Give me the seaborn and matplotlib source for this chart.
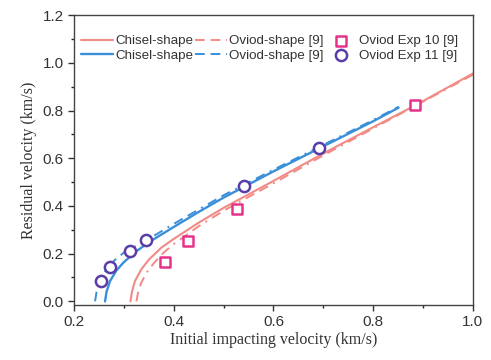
import numpy as np
import pandas as pd
import seaborn as sns
import matplotlib
matplotlib.use("Agg")
import matplotlib.pyplot as plt
from matplotlib.ticker import MultipleLocator

# --- datos ---
x_chisel_red = [0.313, 0.316, 0.322, 0.335, 0.35, 0.375, 0.40, 0.45, 0.50, 0.60, 0.70, 0.80, 0.883, 1.00]
y_chisel_red = [0.000, 0.040, 0.085, 0.135, 0.175, 0.225, 0.262, 0.330, 0.392, 0.505, 0.620, 0.730, 0.820, 0.955]

x_oviod_red = [0.325, 0.328, 0.334, 0.345, 0.36, 0.38, 0.40, 0.45, 0.50, 0.60, 0.70, 0.80, 0.883, 1.00]
y_oviod_red = [0.000, 0.035, 0.075, 0.120, 0.160, 0.205, 0.240, 0.315, 0.380, 0.495, 0.612, 0.725, 0.818, 0.950]

x_chisel_blue = [0.262, 0.265, 0.272, 0.285, 0.30, 0.325, 0.35, 0.40, 0.45, 0.50, 0.60, 0.70, 0.80, 0.851]
y_chisel_blue = [0.000, 0.040, 0.085, 0.130, 0.165, 0.210, 0.248, 0.312, 0.375, 0.435, 0.545, 0.650, 0.755, 0.812]

x_oviod_blue = [0.242, 0.245, 0.252, 0.265, 0.28, 0.30, 0.35, 0.40, 0.45, 0.50, 0.60, 0.70, 0.80, 0.851]
y_oviod_blue = [0.000, 0.040, 0.085, 0.135, 0.170, 0.205, 0.262, 0.325, 0.385, 0.445, 0.552, 0.656, 0.760, 0.816]

exp10_x = [0.382, 0.428, 0.527, 0.883]
exp10_y = [0.163, 0.255, 0.389, 0.822]

exp11_x = [0.254, 0.272, 0.312, 0.344, 0.541, 0.691]
exp11_y = [0.084, 0.142, 0.209, 0.259, 0.485, 0.644]

rojo = "#F28A86"
azul = "#3A8FD8"
magenta = "#E5338A"
morado = "#5A3DA8"
guiones = [5, 3, 5, 3, 1, 3]

sns.set_style("ticks")
plt.rcParams['font.family'] = ['Liberation Sans', 'DejaVu Sans']

fig = plt.figure(figsize=(4.91, 3.60), dpi=100)
ax = fig.add_axes([0.151, 0.153, 0.812, 0.805])

sns.lineplot(x=x_chisel_red, y=y_chisel_red, ax=ax, color=rojo, lw=1.5, label="Chisel-shape", sort=False)
sns.lineplot(x=x_chisel_blue, y=y_chisel_blue, ax=ax, color=azul, lw=1.7, label="Chisel-shape", sort=False)
sns.lineplot(x=x_oviod_red, y=y_oviod_red, ax=ax, color=rojo, lw=1.4, label="Oviod-shape [9]", sort=False)
ax.lines[-1].set_dashes(guiones)
sns.lineplot(x=x_oviod_blue, y=y_oviod_blue, ax=ax, color=azul, lw=1.4, label="Oviod-shape [9]", sort=False)
ax.lines[-1].set_dashes(guiones)

sns.scatterplot(x=exp10_x, y=exp10_y, ax=ax, marker="s", s=50, facecolor="white",
                edgecolor=magenta, linewidth=1.8, label="Oviod Exp 10 [9]", zorder=5)
sns.scatterplot(x=exp11_x, y=exp11_y, ax=ax, marker="o", s=65, facecolor="white",
                edgecolor=morado, linewidth=1.8, label="Oviod Exp 11 [9]", zorder=5)

ax.set_xlim(0.2, 1.0)
ax.set_ylim(-0.015, 1.2)
ax.xaxis.set_major_locator(MultipleLocator(0.2))
ax.xaxis.set_minor_locator(MultipleLocator(0.1))
ax.yaxis.set_major_locator(MultipleLocator(0.2))
ax.yaxis.set_minor_locator(MultipleLocator(0.1))
ax.xaxis.set_major_formatter(matplotlib.ticker.FormatStrFormatter('%.1f'))
ax.yaxis.set_major_formatter(matplotlib.ticker.FormatStrFormatter('%.1f'))
ax.tick_params(which="major", direction="out", length=4, width=1, labelsize=11, colors="#333333")
ax.tick_params(which="minor", direction="out", length=2.5, width=1)
for s in ax.spines.values():
    s.set_color("#444444")
    s.set_linewidth(1)

ax.set_xlabel("Initial impacting velocity (km/s)", family="Liberation Serif", fontsize=11.5, color="#333333", labelpad=2)
ax.set_ylabel("Residual velocity (km/s)", family="Liberation Serif", fontsize=11.5, color="#333333", labelpad=4)

leg = ax.legend(ncol=3, frameon=False, loc="upper left", bbox_to_anchor=(0.005, 0.95),
                fontsize=9.6, handlelength=2.4, handletextpad=0.15, columnspacing=0.1,
                labelspacing=0.15, borderaxespad=0.2, borderpad=0.2)
for t in leg.get_texts():
    t.set_color("#333333")

fig.savefig("out.png", dpi=100)
